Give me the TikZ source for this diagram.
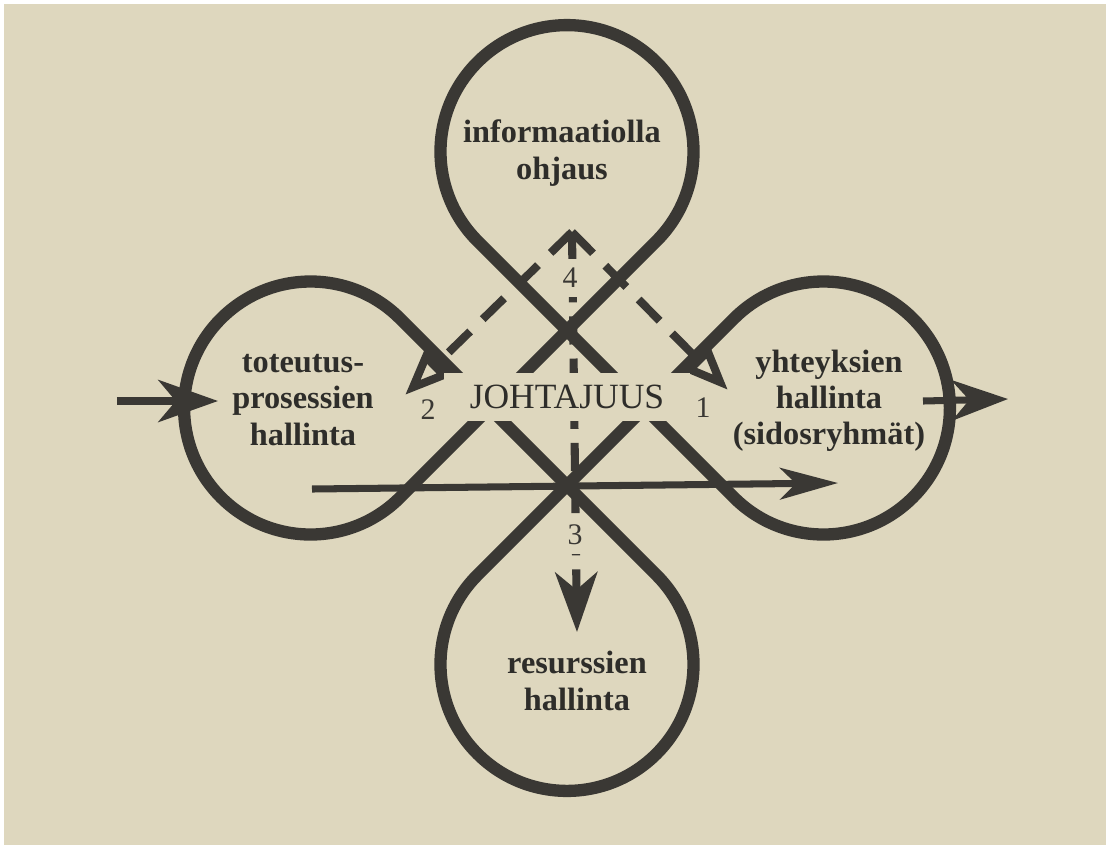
\documentclass[tikz,border=0pt]{standalone}
\usepackage{fontspec}
\setmainfont{Liberation Serif}
\usetikzlibrary{arrows.meta,calc}
\definecolor{cInk}{HTML}{3A3834}
\definecolor{cPaper}{HTML}{DED7BE}
\tikzset{
  loopline/.style={draw=cInk, line width=3.5pt, line join=round},
  flowar/.style={-{Stealth[length=17pt, width=12pt, inset=5pt]}, draw=cInk, line width=2pt},
  dashar/.style={-{Triangle[open, length=13pt, width=10pt]}, draw=cInk, line width=2.3pt,
                 dash pattern=on 8.5pt off 5pt},
  leaf/.style={align=center, font=\fontsize{9.2}{10.3}\selectfont\bfseries,
               text=cInk!80!black, inner sep=0pt},
  num/.style={font=\fontsize{8.5}{9}\selectfont, text=cInk, inner sep=1pt},
}
\newcommand{\loopr}{1.265}
\newcommand{\loopd}{2.564}

\begin{document}
\begin{tikzpicture}
  % paper
  \fill[white] (-5.67,-4.37) rectangle (5.39,4.08);
  \fill[cPaper] (-5.63,-4.37) rectangle (5.39,4.04);
  \useasboundingbox (-5.67,-4.37) rectangle (5.39,4.08);

  % loop centres
  \coordinate (cN) at (0,\loopd);
  \coordinate (cE) at (\loopd,0);
  \coordinate (cS) at (0,-\loopd);
  \coordinate (cW) at (-\loopd,0);

  % the four loops as one curve
  \draw[loopline] ($(cN)+(225:\loopr)$) -- ($(cE)+(225:\loopr)$)
      arc[start angle=-135, end angle=135, radius=\loopr]
    -- ($(cS)+(135:\loopr)$) arc[start angle=135, end angle=405, radius=\loopr]
    -- ($(cW)+(45:\loopr)$) arc[start angle=45, end angle=315, radius=\loopr]
    -- ($(cN)+(315:\loopr)$) arc[start angle=-45, end angle=225, radius=\loopr]
    -- cycle;

  % flows
  \coordinate (inS) at (-4.50,0.07);
  \coordinate (inE) at (-3.49,0.07);
  \coordinate (outS) at (3.56,0.07);
  \coordinate (outE) at (4.41,0.09);
  \coordinate (midS) at (-2.55,-0.81);
  \coordinate (midE) at (2.71,-0.75);
  \draw[flowar] (inS) -- (inE);
  \draw[flowar, -{Stealth[length=16pt, width=11.5pt, inset=5pt]}] (outS) -- (outE);
  \draw[flowar, -{Stealth[length=16.5pt, width=9pt, inset=4.5pt]}] (midS) -- (midE);

  % dashed arrows
  \coordinate (apex) at (0.05,1.76);
  \coordinate (tipA) at (1.61,0.18);
  \coordinate (tipB) at (-1.62,0.13);
  \coordinate (tipC) at (0.10,-2.24);
  \draw[dashar] (apex) -- (tipA);
  \draw[dashar] (apex) -- (tipB);
  \draw[dashar, -{Stealth[length=17pt, width=12pt, inset=5pt]},
        dash pattern=on 8pt off 4pt] (apex) -- (tipC);

  % labels
  \node[fill=cPaper, minimum width=2.45cm, minimum height=0.48cm, inner sep=0pt,
        font=\fontsize{10.1}{11}\selectfont, text=cInk!80!black] (nLead) at (0.00,0.11) {JOHTAJUUS};
  \node[leaf] (nInfo) at (-0.05,2.55) {informaatiolla\\ohjaus};
  \node[leaf] (nProc) at (-2.64,0.08) {toteutus-\\prosessien\\hallinta};
  \node[leaf] (nConn) at (2.62,0.07) {yhteyksien\\hallinta\\(sidosryhmät)};
  \node[leaf] (nRes) at (0.10,-2.73) {resurssien\\hallinta};
  \node[num] (nOne) at (1.36,0.00) {1};
  \node[num] (nTwo) at (-1.39,-0.02) {2};
  \node[num, fill=cPaper, minimum height=11pt] (nThree) at (0.08,-1.27) {3};
  \node[num, fill=cPaper, minimum height=11pt] (nFour) at (0.03,1.30) {4};
\end{tikzpicture}
\end{document}
